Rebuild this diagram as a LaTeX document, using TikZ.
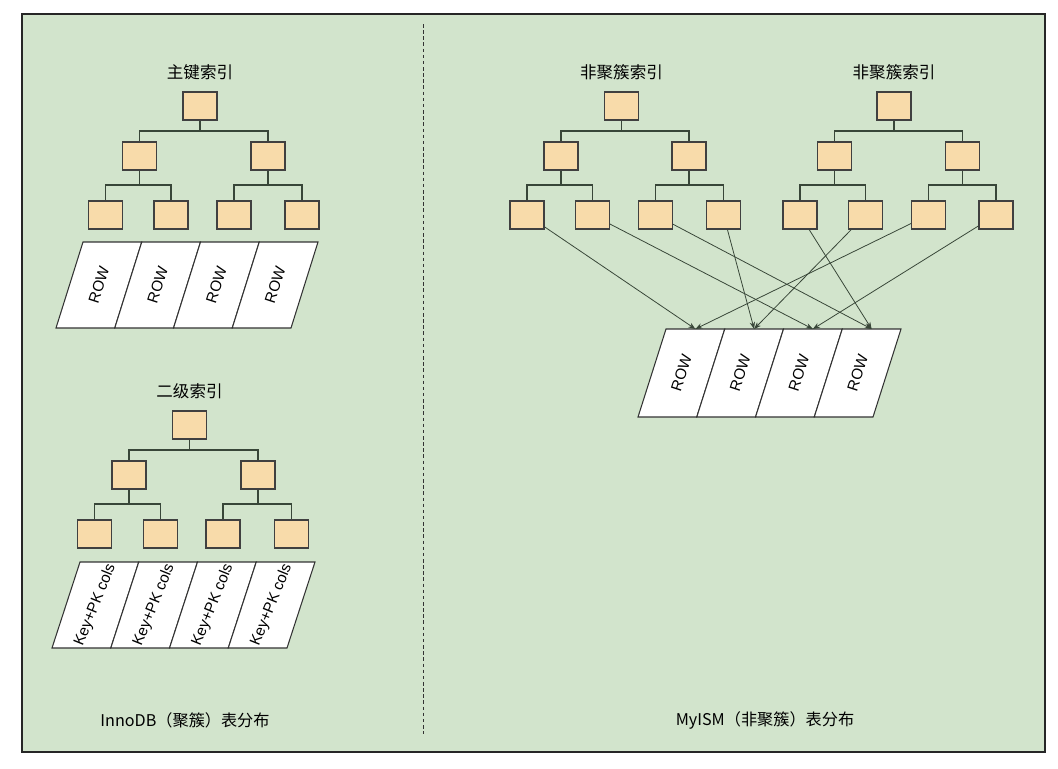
\documentclass[tikz,border=0pt]{standalone}
\usepackage{fontspec}
\setmainfont{Liberation Sans}
\newfontfamily\cjk{Noto Sans CJK SC}
\usepackage{tikz}
\usetikzlibrary{positioning, arrows.meta}
\usepackage{xcolor}

\definecolor{bggreen}{RGB}{210,228,204}
\definecolor{keyfill}{RGB}{248,219,170}
\definecolor{wire}{RGB}{56,70,56}

% One index tree: #1 prefix, #2 top y, #3 root x, #4 #5 level-2 x, #6 to #9 leaf x
\newcommand{\idxtree}[9]{%
    \node[keybox] (#1r) at (#3, #2+14) {};
    \node[keybox] (#1a) at (#4, #2+64) {};
    \node[keybox] (#1b) at (#5, #2+64) {};
    \node[keybox] (#1c) at (#6, #2+123) {};
    \node[keybox] (#1d) at (#7, #2+123) {};
    \node[keybox] (#1e) at (#8, #2+123) {};
    \node[keybox] (#1f) at (#9, #2+123) {};
    % Bus lines
    \coordinate (#1k) at (#3, #2+39);
    \coordinate (#1ka) at (#4, #2+93);
    \coordinate (#1kb) at (#5, #2+93);
    \draw[link] (#1r) -- (#1k) -| (#1a);
    \draw[link] (#1k) -| (#1b);
    \draw[link] (#1a) -- (#1ka) -| (#1c);
    \draw[link] (#1ka) -| (#1d);
    \draw[link] (#1b) -- (#1kb) -| (#1e);
    \draw[link] (#1kb) -| (#1f);
}

% Slanted strip of four cells: #1 prefix, #2 top-left x, #3 top y, #4 bottom-left x, #5 height, #6 label, #7 angle
\newcommand{\rowstrip}[7]{%
    \foreach \i in {0,...,3}{
        \draw[cell] ({#2+\i*58.75}, #3) -- ({#2+(\i+1)*58.75}, #3)
            -- ({#4+(\i+1)*58.75}, #3+#5) -- ({#4+\i*58.75}, #3+#5) -- cycle;
        \node[celltext, rotate=#7] (#1\i) at ({(#2+#4)/2+(\i+0.5)*58.75}, #3+#5/2) {#6};
        \coordinate (#1t\i) at ({#2+(\i+0.5)*58.75}, #3);
    }
}

\begin{document}
\begin{tikzpicture}[x=0.02cm, y=-0.02cm,
    keybox/.style={draw=black!75, fill=keyfill, line width=0.6pt, minimum width=0.68cm, minimum height=0.56cm, inner sep=0pt},
    link/.style={draw=wire, line width=0.6pt},
    ptr/.style={draw=wire, line width=0.45pt, -{Stealth[length=4pt, width=3pt]}},
    cell/.style={draw=black!80, fill=white, line width=0.6pt},
    celltext/.style={font=\fontsize{8.7}{10}\selectfont, inner sep=0pt},
    title/.style={font=\cjk\fontsize{9.4}{11}\selectfont, inner sep=0pt},
    caption/.style={font=\cjk\fontsize{9.2}{11}\selectfont, inner sep=0pt}]

    % Page and frame
    \useasboundingbox (0,0) rectangle (1058,768);
    \fill[white] (0,0) rectangle (1058,768);
    \draw[fill=bggreen, draw=black!85, line width=0.8pt] (22,14) rectangle (1045,752);

    % Divider
    \draw[black!80, line width=0.7pt, dash pattern=on 2pt off 1.5pt] (423.5,24) -- (423.5,734);

    % InnoDB: primary key index
    \idxtree{T}{92}{200}{139.5}{268}{105.5}{171}{234}{302}
    \node[title, above=0.22cm of Tr] (Ttitle) {主键索引};
    \rowstrip{R}{83}{242}{56}{86}{ROW}{72}

    % InnoDB: secondary index
    \idxtree{S}{411}{189.5}{129}{258}{94.5}{160.5}{223}{291.5}
    \node[title, above=0.22cm of Sr] (Stitle) {二级索引};
    \rowstrip{K}{80}{562}{52}{86}{Key+PK cols}{68}

    % MyISAM: two non-clustered indexes
    \idxtree{A}{92}{621.5}{561}{689}{527}{592.5}{655.5}{723.5}
    \node[title, above=0.22cm of Ar] (Atitle) {非聚簇索引};
    \idxtree{B}{92}{894}{834.5}{962.5}{800}{865.5}{928.5}{996}
    \node[title, above=0.22cm of Br] (Btitle) {非聚簇索引};
    \rowstrip{M}{666}{329}{638}{88}{ROW}{72}

    % Pointers from leaves to rows
    \draw[ptr] (Ac) -- (Mt0);
    \draw[ptr] (Ad) -- (Mt2);
    \draw[ptr] (Ae) -- (Mt3);
    \draw[ptr] (Af) -- (Mt1);
    \draw[ptr] (Bc) -- (Mt3);
    \draw[ptr] (Bd) -- (Mt1);
    \draw[ptr] (Be) -- (Mt0);
    \draw[ptr] (Bf) -- (Mt2);

    % Captions
    \node[caption] (innocap) at (185,720) {InnoDB（聚簇）表分布};
    \node[caption] (myisamcap) at (765,720) {MyISM（非聚簇）表分布};

\end{tikzpicture}
\end{document}
